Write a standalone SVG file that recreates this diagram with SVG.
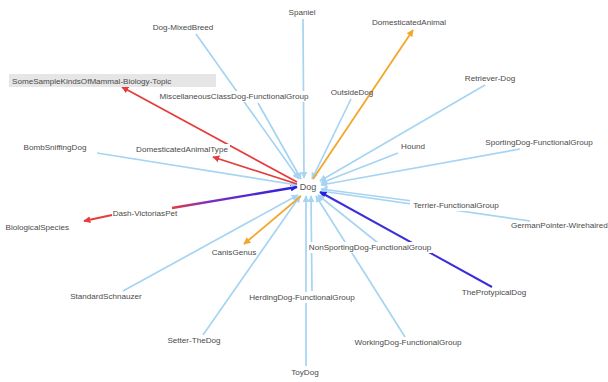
<svg xmlns="http://www.w3.org/2000/svg" width="608" height="382" viewBox="0 0 608 382">
<defs>
<style>
text{font-family:"Liberation Sans",Arial,sans-serif;font-size:8.1px;fill:#4a4a4a;text-anchor:middle}
.e{stroke:#a6d4f2;stroke-width:1.7;fill:none}
.o{stroke:#f3a62a;stroke-width:1.8;fill:none}
.r{stroke:#e63c3c;stroke-width:1.8;fill:none}
.b{stroke:#3a2fd8;stroke-width:2;fill:none}
.bg{fill:#fff}
</style>
<marker id="mb" viewBox="0 0 10 10" refX="9" refY="5" markerWidth="7" markerHeight="7" markerUnits="userSpaceOnUse" orient="auto"><path d="M0,0L10,5L0,10z" fill="#a6d4f2"/></marker>
<marker id="mo" viewBox="0 0 10 10" refX="9" refY="5" markerWidth="7" markerHeight="7" markerUnits="userSpaceOnUse" orient="auto"><path d="M0,0L10,5L0,10z" fill="#f3a62a"/></marker>
<marker id="mr" viewBox="0 0 10 10" refX="9" refY="5" markerWidth="7" markerHeight="7" markerUnits="userSpaceOnUse" orient="auto"><path d="M0,0L10,5L0,10z" fill="#e63c3c"/></marker>
<marker id="mk" viewBox="0 0 10 10" refX="9" refY="5" markerWidth="7" markerHeight="7" markerUnits="userSpaceOnUse" orient="auto"><path d="M0,0L10,5L0,10z" fill="#2a20e0"/></marker>
<linearGradient id="gd" gradientUnits="userSpaceOnUse" x1="172" y1="208" x2="297" y2="187"><stop offset="0" stop-color="#e63c3c"/><stop offset="0.3" stop-color="#7a2fc0"/><stop offset="1" stop-color="#2a20e0"/></linearGradient>
</defs>
<rect width="608" height="382" fill="#fff"/>
<g id="connectors">
<line class="e" x1="303" y1="19" x2="304" y2="178" marker-end="url(#mb)"/>
<line class="e" x1="196" y1="34" x2="299" y2="179" marker-end="url(#mb)"/>
<line class="e" x1="258" y1="103" x2="301" y2="179" marker-end="url(#mb)"/>
<line class="e" x1="351" y1="99" x2="312" y2="179" marker-end="url(#mb)"/>
<line class="o" x1="313" y1="179" x2="413" y2="30" marker-end="url(#mo)"/>
<line class="e" x1="485" y1="85" x2="320" y2="181" marker-end="url(#mb)"/>
<line class="e" x1="398" y1="153" x2="321" y2="183" marker-end="url(#mb)"/>
<line class="e" x1="520" y1="149" x2="321" y2="185" marker-end="url(#mb)"/>
<line class="e" x1="420" y1="202" x2="321" y2="189" marker-end="url(#mb)"/>
<line class="e" x1="530" y1="221" x2="321" y2="191" marker-end="url(#mb)"/>
<line class="b" x1="492" y1="287" x2="320" y2="192" marker-end="url(#mk)"/>
<line class="e" x1="405" y1="337" x2="316" y2="196" marker-end="url(#mb)"/>
<line class="e" x1="378" y1="243" x2="318" y2="195" marker-end="url(#mb)"/>
<line class="e" x1="306" y1="366" x2="306" y2="196" marker-end="url(#mb)"/>
<line class="e" x1="312" y1="291" x2="311" y2="196" marker-end="url(#mb)"/>
<line class="e" x1="203" y1="335" x2="300" y2="196" marker-end="url(#mb)"/>
<line class="o" x1="301" y1="196" x2="244" y2="244" marker-end="url(#mo)"/>
<line class="e" x1="123" y1="291" x2="298" y2="195" marker-end="url(#mb)"/>
<line x1="172" y1="208" x2="297" y2="187" stroke="url(#gd)" stroke-width="2.4" marker-end="url(#mk)"/>
<line class="r" x1="112" y1="215" x2="84" y2="221" marker-end="url(#mr)"/>
<line class="e" x1="97" y1="153" x2="297" y2="185" marker-end="url(#mb)"/>
<line class="r" x1="297" y1="184" x2="213" y2="157" marker-end="url(#mr)"/>
<line class="r" x1="297" y1="182" x2="122" y2="87" marker-end="url(#mr)"/>
</g>
<g id="n-spaniel"><text x="302" y="15">Spaniel</text></g>
<g id="n-domesticatedanimal"><text x="409" y="25">DomesticatedAnimal</text></g>
<g id="n-dogmixedbreed"><text x="183" y="30">Dog-MixedBreed</text></g>
<g id="n-somesample"><rect x="9" y="74" width="207" height="13" fill="#e6e6e6"/><text x="12" y="83.5" style="text-anchor:start">SomeSampleKindsOfMammal-Biology-Topic</text></g>
<g id="n-misc"><rect class="bg" x="159" y="91" width="152" height="11"/><text x="234" y="99">MiscellaneousClassDog-FunctionalGroup</text></g>
<g id="n-outsidedog"><text x="352" y="95">OutsideDog</text></g>
<g id="n-retriever"><text x="490" y="81">Retriever-Dog</text></g>
<g id="n-bombsniffing"><text x="55" y="150">BombSniffingDog</text></g>
<g id="n-dat"><rect class="bg" x="135" y="144" width="95" height="11"/><text x="182" y="152">DomesticatedAnimalType</text></g>
<g id="n-hound"><text x="413" y="149">Hound</text></g>
<g id="n-sporting"><text x="539" y="145">SportingDog-FunctionalGroup</text></g>
<g id="n-dog"><text x="308" y="190" style="font-size:9px;fill:#555">Dog</text></g>
<g id="n-dash"><text x="145" y="216">Dash-VictoriasPet</text></g>
<g id="n-biospecies"><text x="69" y="230" style="text-anchor:end">BiologicalSpecies</text></g>
<g id="n-terrier"><rect class="bg" x="410" y="200" width="93" height="11"/><text x="456" y="208">Terrier-FunctionalGroup</text></g>
<g id="n-germanpointer"><text x="511" y="228" style="text-anchor:start">GermanPointer-Wirehaired</text></g>
<g id="n-canis"><text x="234" y="255">CanisGenus</text></g>
<g id="n-nonsporting"><rect class="bg" x="308" y="242" width="124" height="11"/><text x="370" y="250">NonSportingDog-FunctionalGroup</text></g>
<g id="n-schnauzer"><text x="106" y="299">StandardSchnauzer</text></g>
<g id="n-prototypical"><text x="494" y="295">TheProtypicalDog</text></g>
<g id="n-herding"><rect class="bg" x="248" y="292" width="108" height="11"/><text x="302" y="300">HerdingDog-FunctionalGroup</text></g>
<g id="n-setter"><text x="194" y="343">Setter-TheDog</text></g>
<g id="n-working"><text x="408" y="345">WorkingDog-FunctionalGroup</text></g>
<g id="n-toydog"><text x="305" y="375">ToyDog</text></g>
</svg>
